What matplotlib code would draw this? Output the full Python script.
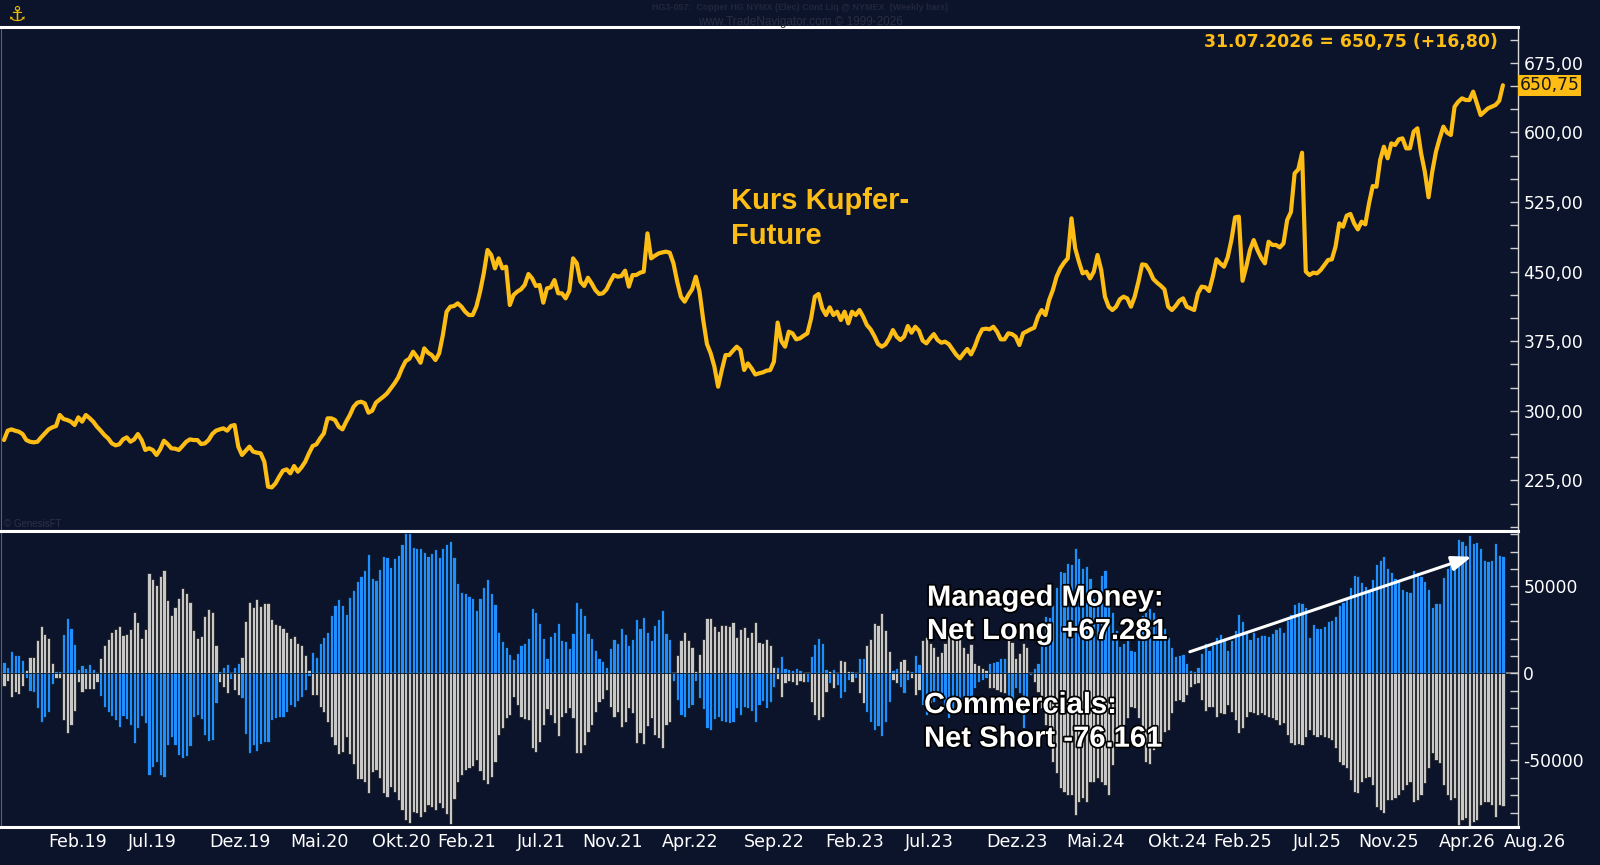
import matplotlib.pyplot as plt
import matplotlib.patheffects as pe
from matplotlib.ticker import MultipleLocator, FixedLocator, FuncFormatter
import numpy as np
import pandas as pd

plt.rcParams['axes.unicode_minus'] = False

# weekly close, copper HG (US cents/lb), Nov 2018 .. Jul 2026
price = [
    268.4, 278.5, 279.9, 278.5, 277.4, 274.9, 268.4, 266.6, 265.9, 266.6,
    271.3, 275.6, 279.9, 282.1, 283.5, 295.4, 291.1, 290.0, 288.2, 284.6,
    292.9, 288.2, 295.4, 292.1, 288.2, 282.8, 278.5, 273.8, 270.2, 264.8,
    262.7, 263.8, 269.1, 271.3, 266.6, 269.1, 274.9, 268.4, 257.7, 259.5,
    257.7, 252.3, 258.4, 267.7, 264.1, 259.5, 259.1, 257.7, 262.0, 266.6,
    269.1, 268.4, 268.4, 264.1, 264.8, 268.4, 274.9, 278.5, 279.9, 281.0,
    278.5, 283.5, 284.6, 261.3, 252.3, 256.9, 261.3, 255.9, 254.8, 254.1,
    245.1, 218.1, 217.4, 221.7, 228.9, 235.4, 236.8, 232.5, 240.4, 234.3,
    239.0, 245.1, 254.1, 262.0, 263.8, 270.2, 275.6, 291.8, 291.8, 290.0,
    282.8, 279.9, 288.2, 295.4, 304.3, 308.7, 309.7, 308.0, 297.9, 300.0,
    308.7, 312.0,
    315.1, 318.7, 324.1, 329.5, 335.9, 345.6, 353.5, 356.0, 363.6, 358.2,
    351.7, 367.2, 362.5, 360.0, 354.6, 361.8, 381.6, 406.7, 412.1, 412.8,
    415.7, 412.1, 406.7, 403.1, 403.1, 412.1, 428.3, 448.1, 473.2, 467.8,
    453.4, 464.2, 453.4, 455.2, 413.9, 424.7, 428.3, 430.8, 435.5, 447.3,
    442.6, 434.4, 435.5, 416.4, 431.9, 432.9, 440.8, 426.5, 426.5, 421.1,
    429.3, 464.2, 458.8, 439.0, 434.4, 443.3, 437.2, 430.0, 425.8, 426.5,
    430.8, 439.0, 446.2, 444.4, 445.2, 450.9, 433.7, 446.2, 446.2, 448.7,
    449.8, 491.1, 464.2, 467.0, 469.5, 470.6, 471.4, 470.3, 458.8, 439.0,
    422.9, 417.5, 424.7, 430.8, 444.4, 428.3, 397.7, 371.9, 361.8, 347.5,
    325.9, 343.9, 360.0, 360.0, 364.7, 369.0, 365.4, 343.9, 351.0, 345.6,
    339.0, 340.3, 341.3, 343.1, 343.8, 352.8, 395.0, 375.0, 369.0, 385.2,
    383.4, 376.9, 378.0, 380.9, 383.4, 399.5, 422.9, 425.8, 410.3, 403.1,
    411.4, 403.1, 406.7, 397.7, 406.7, 394.1, 406.7, 403.1, 408.5, 401.3,
    392.3, 387.7, 380.5, 371.9, 369.0, 371.5, 378.0, 386.9, 379.8, 376.2,
    379.8, 391.3, 384.1, 390.5, 386.2, 375.5, 372.6, 378.0, 382.6, 376.2,
    373.3, 374.4, 371.9, 366.1, 360.4, 356.4, 361.8, 366.5, 360.7, 369.0,
    379.8, 387.7, 388.4, 387.7, 390.5, 385.2, 376.9, 376.9, 383.4, 382.6,
    379.8, 370.8, 383.4, 385.5, 387.7, 389.5, 401.3, 408.5, 403.1, 419.3,
    430.1, 444.4, 453.4, 459.5, 464.2, 507.3, 475.0, 460.6, 448.0, 449.8,
    442.6, 449.8, 467.8, 451.6, 422.9, 412.1, 408.5, 412.1, 420.0, 422.9,
    421.0, 412.1, 422.9, 439.0, 457.7, 457.0, 450.9, 441.9, 438.0, 434.7,
    430.8, 412.1, 408.5, 412.8, 418.6, 421.1, 412.1, 410.3, 408.5, 426.5,
    433.7, 433.0, 429.0, 444.4, 463.1, 458.8, 455.2, 465.3, 483.9, 508.4,
    509.1, 440.0, 455.2, 473.2, 483.9, 473.2, 464.9, 458.8, 482.1, 478.6,
    478.6, 476.0, 480.3, 505.5, 514.1, 555.8, 560.1, 578.0, 450.0, 446.2,
    448.7, 448.0, 451.6, 457.0, 462.4, 463.1, 476.8, 501.9, 498.3, 510.2,
    512.0, 501.9, 495.4, 503.7, 500.8, 523.4, 542.1, 541.4, 570.2, 584.5,
    572.0, 588.1, 586.3, 592.4, 593.5, 582.7, 582.7, 600.7, 604.3, 577.3,
    557.6, 530.0, 557.6, 579.1, 593.5, 606.1, 599.6, 597.1, 627.6, 633.0,
    636.6, 634.8, 634.8, 643.8, 631.2, 618.6, 622.2, 625.8, 627.6, 629.4,
    633.95, 650.75,
]

# COT net positions in thousand contracts
managed_money = [
    6.7, 3.8, 12.8, 10.5, 10.5, 7.7, -2.9, -10.0, -10.5, -20.1,
    -27.8, -24.9, -22.0, -6.1, 1.3, 1.3, 22.6, 31.6, 25.9, 16.7,
    2.3, 4.8, 3.3, 5.2, 2.3, 1.0, -13.0, -19.5, -22.0, -24.5,
    -26.8, -30.7, -24.3, -26.2, -29.7, -40.2, -31.6, -24.3, -28.7, -58.4,
    -54.0, -50.8, -58.4, -59.4, -41.2, -36.4, -41.2, -46.9, -48.9, -47.3,
    -41.6, -25.3, -23.9, -26.2, -35.4, -38.9, -38.3, -17.2, 1.5, 3.8,
    5.2, -3.3, 3.8, 5.9, -14.0, -34.9, -46.0, -41.2, -44.4, -40.6,
    -39.3, -39.3, -26.8, -25.9, -25.3, -25.3, -22.0, -18.2, -19.5, -15.7,
    -13.4, -9.6, -1.3, 12.5, 9.6, 17.2, 21.1, 23.9, 33.5, 39.3,
    42.7, 39.3, 34.1, 44.1, 47.9, 53.3, 55.9, 59.4, 68.4, 54.6,
    53.6,
    59.8, 67.6, 67.0, 61.3, 66.1, 68.0, 74.1, 80.5, 80.5, 72.4,
    72.2, 72.2, 69.9, 67.4, 69.0, 71.3, 66.7, 71.8, 74.1, 76.1,
    66.7, 51.7, 46.9, 46.0, 44.4, 43.5, 36.4, 43.1, 49.8, 54.0,
    46.4, 39.7, 23.9, 18.8, 15.3, 11.1, 8.2, 11.9, 16.3, 17.2,
    20.5, 37.7, 35.4, 29.1, 20.1, 8.6, 21.6, 23.6, 28.7, 19.2,
    18.6, 14.4, 23.0, 40.8, 37.4, 33.5, 23.0, 20.1, 13.4, 9.0,
    7.3,
    3.8, 14.4, 19.5, 17.6, 26.2, 22.4, 16.3, 19.5, 31.0, 25.9,
    32.2, 23.9, 19.2, 27.8, 31.2, 36.4, 23.4, 19.5, -4.2, -15.3,
    -23.9, -24.9, -19.7, -18.2, -4.2, -14.0, -20.7, -31.6, -32.6, -26.2,
    -24.9, -27.4, -28.2, -28.7, -28.2, -19.7, -23.9,
    -19.2, -19.7, -21.6, -27.8, -18.2, -15.9, -20.1, -16.7, -8.0, 3.4,
    10.2, 3.3, 2.5, 1.9, 2.9, 1.7, 1.0, -4.8, 10.2, 16.9,
    20.1, 17.6, 2.5, -5.4, 2.3, -6.7,
    -14.4, -10.5, -3.8, 1.5, -2.9, 9.0, 9.0, -22.0, -27.8, -32.6,
    -30.1, -35.8, -27.8, -16.3, 1.9, 2.9, -7.7, -11.5, -3.8, 1.5,
    10.5, 5.2, -18.2, -23.9, -17.2, -16.3, -11.5, -13.4, -21.1, -25.9,
    -22.0, -19.2, -22.0, -15.3, -13.4, -15.3, -8.6, -4.8, -3.8, -2.9,
    5.7, 6.7, 7.1, 8.6, 9.0, -19.2, -16.3, -8.6, -11.5, -31.6,
    -17.2, -1.0, 2.9, 5.7, 18.2, 33.0, 32.6, 39.3, 49.8, 58.8,
    58.4, 63.2, 62.6, 71.8, 66.1, 60.3, 61.7, 54.6, 43.1, 39.3,
    56.5, 59.4, 46.9,
    35.4, 24.9, 15.9, 17.2, 19.2, 13.4, 12.8, 19.2, 33.5, 35.4,
    37.4, 35.4, 32.6, 29.7, 25.9, 20.7, 15.3, 10.2, 10.5, 10.9,
    5.7, 1.9, 1.3, 3.8, 11.9, 17.2, 13.4, 16.3, 21.1, 22.4,
    20.1, 13.4, 19.2, 24.9, 33.9, 30.1, 23.9, 19.9, 23.9, 21.1,
    22.0, 22.0, 21.5, 23.0, 25.3, 26.8, 23.9, 30.7, 33.9, 39.7,
    40.8, 40.2, 38.3, 20.9, 28.2, 26.2, 26.2,
    27.4, 30.1, 30.7, 33.0, 39.3, 40.8, 43.1, 49.8, 56.5, 55.9,
    52.7, 50.2, 47.9, 54.2, 62.6, 65.1, 67.6, 60.3, 58.0, 54.6,
    53.6, 48.5, 47.3, 46.6, 59.4, 58.0, 56.1, 53.3, 48.5, 38.3,
    40.6, 40.6, 55.6, 60.3, 62.3, 63.2, 77.0, 76.1, 73.8, 79.5,
    74.7, 75.7, 71.8, 65.1, 64.8, 65.1, 74.7, 68.0, 67.281,
]

commercials = [
    -7.1, -4.2, -13.4, -10.5, -12.1, -7.1, 1.9, 9.2, 9.6, 19.2,
    27.2, 22.6, 20.1, 5.7, -2.5, -2.5, -26.8, -34.5, -29.7, -21.6,
    -4.8, -10.5, -9.0, -9.2, -9.0, -4.8, 8.6, 16.3, 19.7, 23.9,
    25.3, 27.2, 22.0, 22.6, 25.3, 35.4, 29.7, 20.5, 25.3, 57.5,
    54.2, 50.8, 55.9, 59.4, 42.1, 33.5, 37.9, 43.5, 48.9, 46.0,
    40.8, 24.9, 20.5, 21.6, 33.0, 36.8, 35.4, 16.3, -4.8, -7.7,
    -11.1, 1.0, -9.6, -12.5, 9.6, 30.1, 40.8, 37.9, 42.7, 38.9,
    40.6, 40.6, 31.0, 28.4, 27.8, 26.2, 23.6, 20.1, 21.6, 17.2,
    16.3, 10.5, 1.9, -12.5, -12.5, -19.2, -22.0, -27.8, -36.4, -41.2,
    -46.4, -45.0, -36.4, -46.4, -52.3, -60.7, -60.7, -62.6, -69.0, -56.5,
    -55.6,
    -60.3, -69.0, -70.9, -65.1, -68.0, -72.8, -78.5, -84.3, -86.2, -79.5,
    -80.5, -82.4, -79.9, -75.7, -76.6, -78.5, -74.7, -77.6, -81.0, -86.8,
    -72.2, -62.3, -58.4, -55.6, -54.6, -53.3, -49.8, -55.9, -61.3, -63.8,
    -59.4, -51.1, -35.4, -31.6, -25.9, -23.9, -13.4, -18.2, -24.9, -26.4,
    -26.8, -43.1, -45.4, -39.3, -29.7, -20.7, -23.9, -28.7, -36.0, -24.9,
    -23.0, -20.1, -25.9, -46.0, -46.0, -41.2, -33.5, -29.7, -22.0, -16.3,
    -14.8,
    -9.6, -19.2, -24.9, -22.0, -30.7, -27.8, -20.1, -23.0, -40.2, -34.5,
    -40.8, -30.3, -25.9, -35.4, -37.4, -43.1, -29.7, -27.8, 1.0, 10.5,
    19.2, 23.6, 19.2, 15.3, 1.3, 10.9, 19.5, 31.6, 31.6, 27.2,
    24.3, 27.8, 27.8, 27.2, 29.3, 21.1, 25.3,
    26.8, 21.1, 23.9, 29.3, 18.2, 17.2, 19.5, 16.3, 3.8, -3.3,
    -13.4, -5.4, -4.2, -4.8, -6.7, -4.4, -4.8, 1.0, -16.7, -23.9,
    -26.8, -24.9, -10.9, 1.3, -8.6, 0.5,
    7.7, 7.3, 1.5, -4.8, 1.0, -11.5, -17.2, 16.3, 19.7, 29.1,
    27.8, 34.9, 24.9, 12.8, -3.8, -5.7, 7.3, 8.0, 1.9, -2.5,
    -12.5, -9.6, 19.2, 21.1, 17.2, 15.3, 10.2, 12.5, 17.2, 24.9,
    23.0, 19.2, 21.1, 15.3, 11.5, 16.7, 5.7, 4.8, 3.3, 1.9,
    -8.2, -8.6, -9.6, -10.5, -11.5, 20.1, 18.2, 9.0, 11.5, 17.2,
    15.3, 1.0, -4.8, -10.5, -20.1, -29.7, -41.2, -50.8, -57.5, -66.1,
    -68.0, -69.9, -69.9, -81.4, -73.8, -71.8, -73.8, -62.3, -62.3, -60.3,
    -62.3, -64.2, -69.9,
    -52.7, -43.1, -39.3, -31.6, -25.9, -19.2, -19.7, -25.9, -41.2, -50.8,
    -52.3, -44.1, -43.1, -39.3, -33.5, -32.6, -23.0, -15.9, -15.3, -16.3,
    -12.5, -7.7, -6.3, -5.7, -15.3, -21.6, -19.2, -19.2, -24.9, -23.0,
    -23.6, -18.2, -22.0, -26.8, -34.5, -31.6, -24.9, -22.0, -23.0, -23.9,
    -23.0, -23.9, -24.9, -25.9, -26.8, -29.7, -28.7, -35.4, -40.2, -41.2,
    -40.8, -41.2, -36.4, -32.6, -35.4, -36.4, -35.4,
    -36.4, -37.4, -38.3, -43.1, -50.8, -52.7, -54.6, -61.3, -68.0, -69.0,
    -62.3, -60.3, -59.4, -64.2, -76.6, -78.5, -80.5, -72.8, -72.8, -71.8,
    -69.9, -67.0, -64.2, -62.3, -73.8, -72.8, -69.9, -63.2, -54.6, -46.0,
    -49.8, -51.7, -64.2, -69.9, -72.8, -71.8, -87.2, -84.3, -83.3, -88.1,
    -85.2, -84.3, -75.7, -73.8, -73.8, -75.7, -82.4, -75.7, -76.161,
]

tick_months = ['2019-02', '2019-07', '2019-12', '2020-05', '2020-10', '2021-02',
               '2021-07', '2021-11', '2022-04', '2022-09', '2023-02', '2023-07',
               '2023-12', '2024-05', '2024-10', '2025-02', '2025-07', '2025-11',
               '2026-04', '2026-08']
tick_labels = ['Feb.19', 'Jul.19', 'Dez.19', 'Mai.20', 'Okt.20', 'Feb.21',
               'Jul.21', 'Nov.21', 'Apr.22', 'Sep.22', 'Feb.23', 'Jul.23',
               'Dez.23', 'Mai.24', 'Okt.24', 'Feb.25', 'Jul.25', 'Nov.25',
               'Apr.26', 'Aug.26']

dates = pd.date_range(end='2026-07-31', periods=len(price), freq='W-FRI')
mm = np.array(managed_money) * 1000
comm = np.array(commercials) * 1000

BG = '#0c142c'
GOLD = '#fdbd14'
BLUE = '#1f8fff'
GREY = '#c8c8c8'

fig = plt.figure(figsize=(16, 8.65), dpi=100, facecolor=BG)
ax1 = fig.add_axes([0.000625, 0.38613, 0.948, 0.5830])
ax2 = fig.add_axes([0.000625, 0.04393, 0.948, 0.3422])

xmin = dates[0] - pd.Timedelta(days=5.6)
xmax = dates[-1] + pd.Timedelta(days=28)

for ax in (ax1, ax2):
    ax.set_facecolor(BG)
    ax.set_xlim(xmin, xmax)
    ax.yaxis.tick_right()
    ax.spines['top'].set_color('white')
    ax.spines['top'].set_linewidth(2.2)
    ax.spines['bottom'].set_color('white')
    ax.spines['bottom'].set_linewidth(2.2)
    ax.spines['right'].set_color('#d8d8d8')
    ax.spines['right'].set_linewidth(1)
    ax.spines['left'].set_color('#5a6075')
    ax.spines['left'].set_linewidth(0.8)
    ax.tick_params(axis='y', which='both', direction='in', length=6, width=1,
                   color='#cfcfcf', labelcolor='white', labelsize=12.3, pad=4)

# price panel
ax1.plot(dates, price, color=GOLD, lw=3.0, solid_joinstyle='round', solid_capstyle='round')
ax1.set_ylim(170.4, 713.8)
ax1.yaxis.set_major_locator(FixedLocator(np.arange(225, 676, 75)))
ax1.yaxis.set_minor_locator(MultipleLocator(25))
ax1.yaxis.set_major_formatter(FuncFormatter(lambda v, p: f"{v:.2f}".replace('.', ',')))
ax1.tick_params(axis='x', which='both', length=0, labelbottom=False)

last_txt = f"{price[-1]:.2f}".replace('.', ',')
ax1.annotate(last_txt, xy=(1, price[-1]), xycoords=('axes fraction', 'data'),
             xytext=(1.3, 0), textcoords='offset points', ha='left', va='center',
             fontsize=12.3, color='#161616', annotation_clip=False,
             bbox=dict(boxstyle='square,pad=0.1', fc=GOLD, ec='none'))

chg = price[-1] - price[-2]
head = f"{dates[-1]:%d.%m.%Y} = {last_txt} ({chg:+.2f})".replace('.', ',')
head = f"{dates[-1]:%d.%m.%Y}" + head[10:]
fig.text(1498 / 1600, 1 - 46.7 / 865, head, ha='right', va='baseline',
         fontsize=12.4, fontweight='bold', color=GOLD)

big = dict(fontsize=21, fontweight='bold', family='Liberation Sans', va='baseline', ha='left')
fig.text(731 / 1600, 1 - 209 / 865, 'Kurs Kupfer-', color=GOLD, **big)
fig.text(731 / 1600, 1 - 243.5 / 865, 'Future', color=GOLD, **big)

# COT panel
ax2.axhline(0, color='#8c8c8c', lw=1.2, zorder=1)
ax2.bar(dates, comm, width=6.0, color=GREY, edgecolor='#080808', linewidth=0.45, zorder=2)
ax2.bar(dates, mm, width=6.0, color=BLUE, edgecolor='#080808', linewidth=0.45, zorder=2)
ax2.set_ylim(-88300, 81800)
ax2.yaxis.set_major_locator(FixedLocator([-50000, 0, 50000]))
ax2.yaxis.set_minor_locator(MultipleLocator(10000))
ax2.yaxis.set_major_formatter(FuncFormatter(lambda v, p: f"{v:.0f}"))

ax2.set_xticks(pd.to_datetime(tick_months))
ax2.set_xticklabels(tick_labels, ha='left')
ax2.tick_params(axis='x', length=0, pad=4, labelsize=12.6, labelcolor='white')

def de_num(v):
    return f"{v:+,.0f}".replace(',', '.')

stroke = [pe.withStroke(linewidth=2.5, foreground='#000000')]
fig.text(927 / 1600, 1 - 605.7 / 865, 'Managed Money:', color='white', path_effects=stroke, **big)
fig.text(927 / 1600, 1 - 639 / 865, 'Net Long ' + de_num(mm[-1]), color='white',
         path_effects=stroke, **big)
fig.text(924 / 1600, 1 - 713 / 865, 'Commercials:', color='white', path_effects=stroke, **big)
fig.text(924 / 1600, 1 - 746.7 / 865, 'Net Short ' + de_num(comm[-1]), color='white',
         path_effects=stroke, **big)

ax2.annotate('', xy=(0.9695, 0.913), xytext=(0.7838, 0.592), xycoords='axes fraction',
             arrowprops=dict(arrowstyle='-|>,head_length=1.2,head_width=0.45',
                             color='white', lw=2.2, shrinkA=0, shrinkB=0))

# header / watermark texts
fig.text(0.5, 1 - 8 / 865, 'HG3-057:  Copper HG NYMX (Elec) Cont Liq @ NYMEX  (Weekly bars)',
         ha='center', va='center', fontsize=6.5, fontweight='bold',
         family='Liberation Sans', color='#22263a')
fig.text(0.5, 1 - 22.5 / 865, 'www.TradeNavigator.com \u00a9 1999-2026', ha='center',
         va='center', fontsize=8.5, family='Liberation Sans', color='#2a2e40')
fig.text(4 / 1600, 1 - 524 / 865, '\u00a9 GenesisFT', ha='left', va='center',
         fontsize=7, family='Liberation Sans', color='#2c3147')
fig.text(17 / 1600, 1 - 15 / 865, '\u2693', ha='center', va='center', fontsize=15,
         color='#e8b800')

fig.savefig('out.png', dpi=100, facecolor=BG)
